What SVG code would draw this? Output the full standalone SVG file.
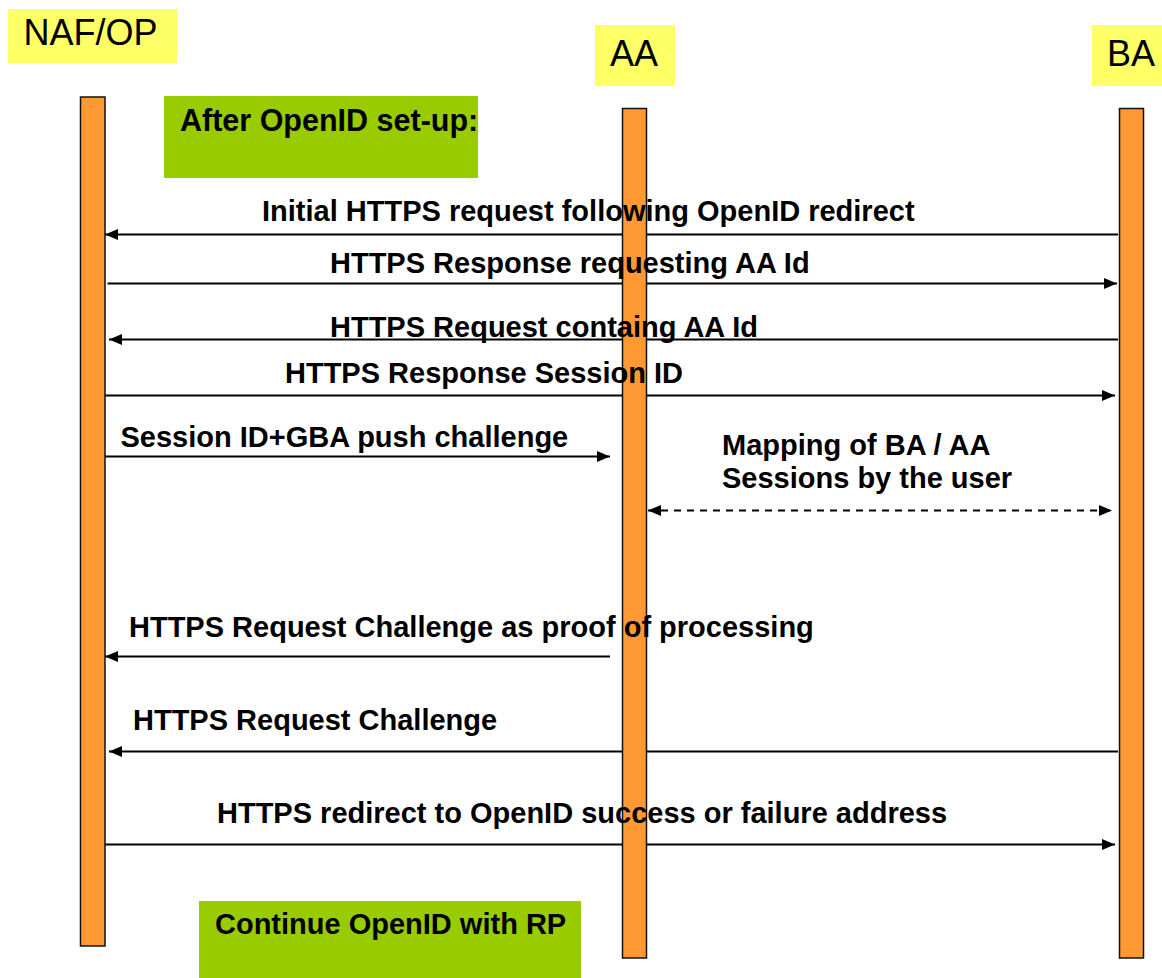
<svg xmlns="http://www.w3.org/2000/svg" width="1162" height="978" viewBox="0 0 1162 978">
<style>
.hdr{fill:#FFFF66}
.hdrt{font-family:"Liberation Sans",Arial,sans-serif;font-size:36px;fill:#000}
.life{fill:#FF9933;stroke:#111;stroke-width:1.5}
.note{fill:#99CC00}
.lbl{font-family:"Liberation Sans",Arial,sans-serif;font-size:29px;font-weight:bold;fill:#000}
.msg{stroke:#000;stroke-width:1.8;fill:none}
.dash{stroke-dasharray:7,6;stroke-width:2}
</style>
<defs>
<marker id="ah" viewBox="0 0 13 11" refX="13" refY="5.5" markerWidth="13" markerHeight="11" markerUnits="userSpaceOnUse" orient="auto-start-reverse">
<path d="M0,0 L13,5.5 L0,11 z" fill="#000"/>
</marker>
</defs>
<g id="naf-op">
<rect class="hdr" x="8" y="9" width="169" height="54"/>
<text class="hdrt" x="23.5" y="45">NAF/OP</text>
</g>
<g id="aa">
<rect class="hdr" x="595" y="25" width="80" height="61"/>
<text class="hdrt" x="610" y="66">AA</text>
</g>
<g id="ba">
<rect class="hdr" x="1092" y="25" width="70" height="61"/>
<text class="hdrt" x="1107" y="66">BA</text>
</g>
<g id="connectors">
<line class="msg" x1="1118" y1="234.5" x2="105" y2="234.5" marker-end="url(#ah)"/>
<line class="msg" x1="107.5" y1="283.5" x2="1117" y2="283.5" marker-end="url(#ah)"/>
<line class="msg" x1="1118" y1="339.5" x2="109" y2="339.5" marker-end="url(#ah)"/>
<line class="msg" x1="105" y1="395.5" x2="1115" y2="395.5" marker-end="url(#ah)"/>
<line class="msg" x1="105" y1="456.5" x2="610" y2="456.5" marker-end="url(#ah)"/>
<line class="msg dash" x1="648" y1="510.5" x2="1112" y2="510.5" marker-start="url(#ah)" marker-end="url(#ah)"/>
<line class="msg" x1="610" y1="656.5" x2="105" y2="656.5" marker-end="url(#ah)"/>
<line class="msg" x1="1118" y1="751.5" x2="109" y2="751.5" marker-end="url(#ah)"/>
<line class="msg" x1="105" y1="844.5" x2="1115" y2="844.5" marker-end="url(#ah)"/>
</g>
<g id="lifelines">
<rect id="naf-op-life" class="life" x="80.5" y="97" width="24.5" height="849"/>
<rect id="aa-life" class="life" x="622.5" y="108.5" width="24" height="849.5"/>
<rect id="ba-life" class="life" x="1119.5" y="108.5" width="24" height="849.5"/>
</g>
<g id="note-after">
<rect class="note" x="164" y="96" width="314" height="82"/>
<text class="lbl" x="180" y="131" style="font-size:30.5px">After OpenID set-up:</text>
</g>
<g id="note-continue">
<rect class="note" x="199" y="901" width="382" height="77"/>
<text class="lbl" x="215" y="934">Continue OpenID with RP</text>
</g>
<g id="labels">
<text class="lbl" x="262" y="221">Initial HTTPS request following OpenID redirect</text>
<text class="lbl" x="330" y="273">HTTPS Response requesting AA Id</text>
<text class="lbl" x="330" y="336.5">HTTPS Request containg AA Id</text>
<text class="lbl" x="285" y="383">HTTPS Response Session ID</text>
<text class="lbl" x="120.5" y="446.5">Session ID+GBA push challenge</text>
<text class="lbl" x="722" y="455">Mapping of BA / AA</text>
<text class="lbl" x="722" y="488">Sessions by the user</text>
<text class="lbl" x="129" y="636.5">HTTPS Request Challenge as proof of processing</text>
<text class="lbl" x="133" y="730">HTTPS Request Challenge</text>
<text class="lbl" x="217" y="823">HTTPS redirect to OpenID success or failure address</text>
</g>
</svg>
